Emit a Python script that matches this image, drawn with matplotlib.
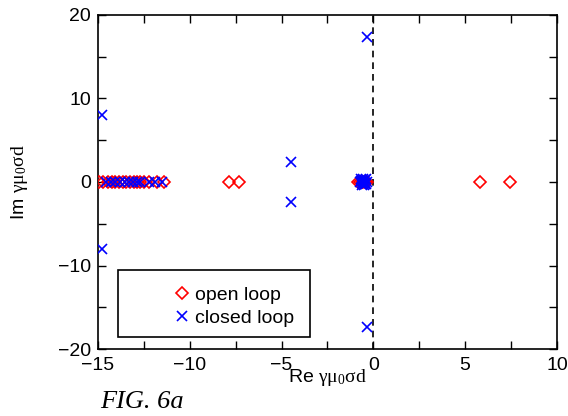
import numpy as np
import matplotlib
matplotlib.use("Agg")
import matplotlib.pyplot as plt
from matplotlib.patches import Rectangle
from matplotlib.ticker import MultipleLocator

plt.rcParams['font.family'] = ['Liberation Sans', 'DejaVu Sans']
plt.rcParams['mathtext.fontset'] = 'custom'
plt.rcParams['mathtext.rm'] = 'Liberation Serif'

# open loop poles (all real)
open_re = [-14.95, -14.7, -14.45, -14.25, -14.05, -13.85, -13.65, -13.45, -13.25,
           -13.05, -12.9, -12.7, -12.5, -12.2, -11.8, -11.4,
           -7.88, -7.3,
           -0.82, -0.72, -0.62, -0.55, -0.48, -0.4, -0.33,
           5.83, 7.42]
open_im = [0.0] * len(open_re)

# closed loop poles
closed_re = [-14.8, -14.8, -14.55, -14.3, -14.05, -13.8, -13.55, -13.3, -13.1,
             -12.9, -12.7, -12.2, -11.9, -11.5,
             -4.48, -4.48,
             -0.32, -0.32,
             -0.72, -0.65, -0.6, -0.55, -0.5, -0.45, -0.4, -0.36,
             -0.68, -0.58, -0.48, -0.4, -0.62, -0.52, -0.44]
closed_im = [8.0, -8.0, 0, 0, 0, 0, 0, 0, 0,
             0, 0, 0, 0, 0,
             2.45, -2.45,
             17.35, -17.35,
             0, 0.3, -0.3, 0.35, -0.35, 0.2, -0.2, 0,
             0.15, 0.1, -0.1, 0.3, -0.15, 0.05, -0.25]

fig = plt.figure(figsize=(5.68, 4.16), dpi=100)
ax = fig.add_axes([0.1725, 0.161, 0.808, 0.803])

ax.axvline(0, color='black', lw=1.2, ls=(0, (4, 3)), zorder=1)
ax.plot(open_re, open_im, 'D', ms=6.5, mfc='none', mec='red', mew=1.2,
        ls='none', label='open loop', zorder=3)
ax.plot(closed_re, closed_im, 'x', ms=6.5, color='blue', mew=1.2,
        ls='none', label='closed loop', zorder=4)

ax.set_xlim(-15, 10)
ax.set_ylim(-20, 20)
ax.xaxis.set_major_locator(MultipleLocator(5))
ax.xaxis.set_minor_locator(MultipleLocator(2.5))
ax.yaxis.set_major_locator(MultipleLocator(10))
ax.yaxis.set_minor_locator(MultipleLocator(5))
ax.tick_params(which='both', direction='in', top=True, right=True,
               length=6, width=1, labelsize=14)
ax.tick_params(axis='x', pad=6)
ax.tick_params(axis='y', pad=5)
for s in ax.spines.values():
    s.set_linewidth(1.2)

ax.set_xlabel(r'Re $\mathrm{γμ_0σd}$', fontsize=14, labelpad=-5)
ax.set_ylabel(r'Im $\mathrm{γμ_0σd}$', fontsize=14, labelpad=20)

# legend box
ax.add_patch(Rectangle((0.0436, 0.036), 0.418, 0.2, transform=ax.transAxes,
                       fill=False, ec='black', lw=1.2, zorder=5))
ax.legend(loc='lower left', bbox_to_anchor=(0.157, 0.054), frameon=False,
          fontsize=14, handlelength=0.8, handletextpad=0.3, labelspacing=0.28,
          borderpad=0.2, borderaxespad=0)

fig.text(0.176, 0.02, 'FIG. 6a', family='Liberation Serif', style='italic',
         fontsize=19)

fig.savefig('out.png', dpi=100)
